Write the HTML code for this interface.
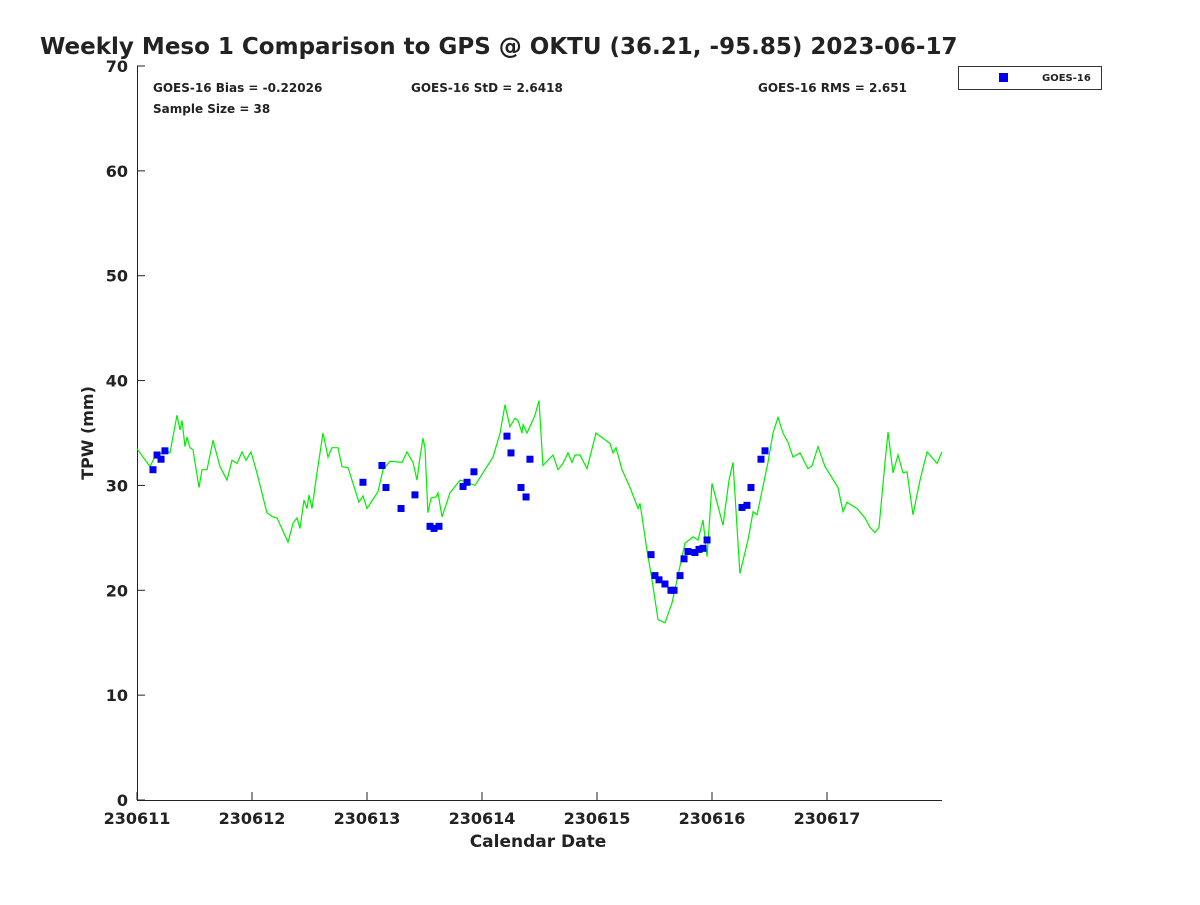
<!DOCTYPE html>
<html><head><meta charset="utf-8"><style>
body{margin:0;background:#fff;font-family:"Liberation Sans","DejaVu Sans",sans-serif;}
svg text{font-family:"DejaVu Sans","Liberation Sans",sans-serif;font-weight:bold;fill:#222;}
</style></head><body>
<svg id="chart" width="1200" height="900" xmlns="http://www.w3.org/2000/svg">
<rect width="1200" height="900" fill="#fff"/>
<text x="40" y="54" font-size="23" fill="#000">Weekly Meso 1 Comparison to GPS @ OKTU (36.21, -95.85) 2023-06-17</text>
<text x="153" y="92" font-size="12">GOES-16 Bias = -0.22026</text>
<text x="411" y="92" font-size="12">GOES-16 StD = 2.6418</text>
<text x="758" y="92" font-size="12">GOES-16 RMS = 2.651</text>
<text x="153" y="113" font-size="12">Sample Size = 38</text>
<g>
<rect x="958.5" y="66.5" width="143" height="23" fill="#fff" stroke="#333" stroke-width="1"/>
<rect x="999" y="73" width="9" height="9" fill="#0000ee"/>
<text x="1042" y="81" font-size="10">GOES-16</text>
</g>
<g id="axes"></g>
<g id="marks"></g>
<text x="538" y="847" font-size="17" text-anchor="middle">Calendar Date</text>
<text transform="translate(93,433) rotate(-90)" font-size="16" text-anchor="middle">TPW (mm)</text>
</svg>
<script>
const xTickLabels=["230611","230612","230613","230614","230615","230616","230617"];
const yTicks=[0,10,20,30,40,50,60,70];
const gpsDays=[0,0.113,0.157,0.261,0.287,0.348,0.374,0.391,0.417,0.435,0.461,0.487,0.539,0.565,0.609,0.661,0.722,0.783,0.826,0.87,0.913,0.948,0.991,1.043,1.13,1.183,1.217,1.313,1.357,1.391,1.417,1.452,1.478,1.496,1.522,1.565,1.617,1.661,1.696,1.748,1.783,1.835,1.878,1.93,1.965,2.0,2.096,2.139,2.2,2.304,2.348,2.4,2.435,2.461,2.487,2.504,2.53,2.557,2.6,2.617,2.652,2.722,2.809,2.87,2.939,3.096,3.157,3.2,3.243,3.287,3.313,3.348,3.357,3.391,3.461,3.496,3.53,3.617,3.661,3.704,3.748,3.783,3.809,3.852,3.913,3.991,4.113,4.139,4.165,4.217,4.287,4.357,4.374,4.435,4.478,4.53,4.591,4.652,4.765,4.835,4.878,4.922,4.957,5.0,5.096,5.148,5.183,5.243,5.313,5.357,5.391,5.487,5.53,5.574,5.617,5.661,5.704,5.765,5.835,5.87,5.922,5.983,6.096,6.139,6.174,6.261,6.33,6.374,6.417,6.452,6.504,6.53,6.574,6.617,6.661,6.696,6.748,6.809,6.87,6.957,7.0];
const gpsTpw=[33.5,31.8,32.8,33.3,33.1,36.7,35.3,36.2,33.7,34.6,33.6,33.4,29.8,31.5,31.5,34.3,31.8,30.5,32.4,32.1,33.2,32.4,33.2,31.2,27.4,27.0,26.9,24.6,26.4,26.9,25.9,28.6,27.8,29.1,27.8,31.2,35.0,32.7,33.6,33.6,31.8,31.7,30.2,28.4,29.0,27.8,29.4,31.5,32.3,32.2,33.2,32.2,30.5,32.7,34.5,33.6,27.4,28.8,28.9,29.3,27.0,29.3,30.5,30.3,30.0,32.7,35.0,37.7,35.6,36.4,36.2,35.0,35.8,35.0,36.7,38.1,31.9,32.9,31.5,32.1,33.1,32.2,32.9,32.9,31.6,35.0,34.0,33.1,33.6,31.5,29.8,27.8,28.3,23.8,21.0,17.2,16.9,18.8,24.5,25.1,24.8,26.7,23.2,30.2,26.2,30.5,32.2,21.6,24.8,27.5,27.2,32.2,35.0,36.5,35.0,34.1,32.7,33.1,31.6,31.9,33.7,31.8,29.8,27.5,28.4,27.8,26.9,26.0,25.5,26.0,32.2,35.1,31.2,32.9,31.2,31.3,27.2,30.5,33.2,32.1,33.2];
const goesDays=[0.139,0.174,0.209,0.243,1.965,2.13,2.165,2.296,2.417,2.548,2.583,2.626,2.835,2.87,2.93,3.217,3.252,3.339,3.383,3.417,4.47,4.504,4.539,4.591,4.643,4.67,4.722,4.757,4.791,4.852,4.887,4.922,4.957,5.261,5.304,5.339,5.426,5.461];
const goesTpw=[31.5,32.9,32.5,33.3,30.3,31.9,29.8,27.8,29.1,26.1,25.9,26.1,29.9,30.3,31.3,34.7,33.1,29.8,28.9,32.5,23.4,21.4,21.0,20.6,20.0,20.0,21.4,23.0,23.7,23.6,23.9,24.0,24.8,27.9,28.1,29.8,32.5,33.3];

const NS="http://www.w3.org/2000/svg";
const X0=137,X1=942,Y0=800,Y1=66;
const xs=d=>X0+(X1-X0)*d/7;
const ys=v=>Y0-(Y0-Y1)*v/70;
function mk(tag,attrs,parent){const e=document.createElementNS(NS,tag);for(const k in attrs)e.setAttribute(k,attrs[k]);parent.appendChild(e);return e;}
const axes=document.getElementById('axes'),marks=document.getElementById('marks');
const ya=mk('line',{x1:X0+0.5,y1:Y1,x2:X0+0.5,y2:Y0,stroke:'#222'},axes);


const xa=mk('line',{x1:X0,y1:Y0+0.5,x2:X1,y2:Y0+0.5,stroke:'#222'},axes);


yTicks.forEach(v=>{
  const y=ys(v);
  const t=mk('line',{x1:X0,y1:y,x2:X0+8,y2:y,stroke:'#222'},axes);
  
  
  const l=mk('text',{x:X0-9,y:y+6,'font-size':16,'text-anchor':'end'},axes);
  l.textContent=v;
  
  
});
xTickLabels.forEach((s,i)=>{
  const x=xs(i);
  const t=mk('line',{x1:x,y1:Y0,x2:x,y2:Y0-8,stroke:'#222'},axes);
  
  
  const l=mk('text',{x:x,y:824,'font-size':16,'text-anchor':'middle'},axes);
  l.textContent=s;
  
  
});
const pts=gpsDays.map((d,i)=>xs(d).toFixed(1)+','+ys(gpsTpw[i]).toFixed(1)).join(' ');
const pl=mk('polyline',{points:pts,fill:'none',stroke:'#00ee00','stroke-width':1.2},marks);


goesDays.forEach((d,i)=>{
  const r=mk('rect',{x:xs(d)-3.5,y:ys(goesTpw[i])-3.5,width:7,height:7,fill:'#0000ee'},marks);
  
  
});
</script>
</body></html>
